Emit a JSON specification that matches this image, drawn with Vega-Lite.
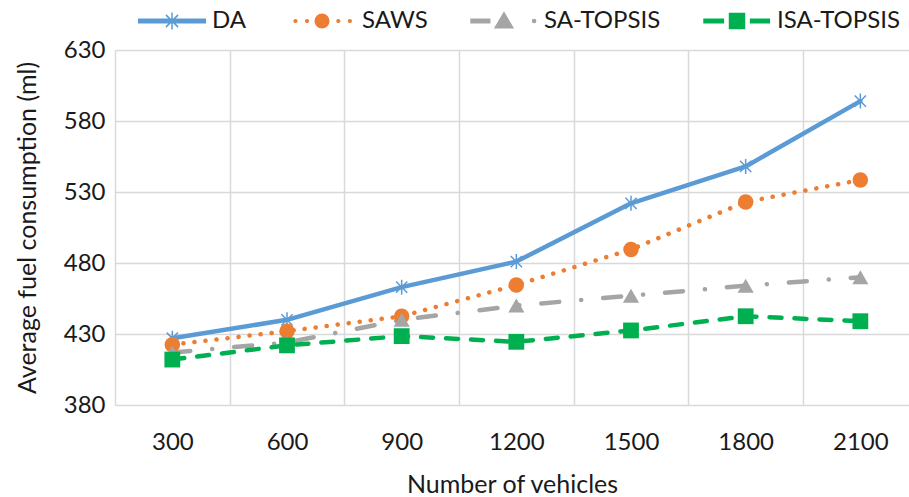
{
  "$schema": "https://vega.github.io/schema/vega-lite/v6.json",
  "width": 794,
  "height": 355,
  "autosize": {"type": "none"},
  "padding": {"left": 115, "top": 50, "right": 0, "bottom": 92},
  "background": "white",
  "config": {
    "view": {"stroke": null},
    "font": "Lato",
    "axis": {"labelFont": "Lato", "titleFont": "Lato", "labelColor": "#1a1a1a", "titleColor": "#1a1a1a", "titleFontWeight": "normal", "gridColor": "#d9d9d9", "gridWidth": 1.5},
    "legend": {
      "title": null, "orient": "none", "direction": "horizontal", "legendX": 22, "legendY": -64,
      "padding": 0, "columnPadding": 40, "labelOffset": 5,
      "labelFont": "Lato", "labelFontSize": 24, "labelColor": "#1a1a1a",
      "symbolSize": 4624, "symbolStrokeWidth": 1.5, "symbolOpacity": 1
    }
  },
  "data": {
    "values": [
      {"n": 300, "series": "DA", "v": 427},
      {"n": 600, "series": "DA", "v": 440},
      {"n": 900, "series": "DA", "v": 463},
      {"n": 1200, "series": "DA", "v": 481},
      {"n": 1500, "series": "DA", "v": 522},
      {"n": 1800, "series": "DA", "v": 548},
      {"n": 2100, "series": "DA", "v": 594},
      {"n": 300, "series": "SAWS", "v": 422.5},
      {"n": 600, "series": "SAWS", "v": 432},
      {"n": 900, "series": "SAWS", "v": 442.5},
      {"n": 1200, "series": "SAWS", "v": 464.5},
      {"n": 1500, "series": "SAWS", "v": 489.5},
      {"n": 1800, "series": "SAWS", "v": 523},
      {"n": 2100, "series": "SAWS", "v": 538.5},
      {"n": 300, "series": "SA-TOPSIS", "v": 417},
      {"n": 600, "series": "SA-TOPSIS", "v": 424},
      {"n": 900, "series": "SA-TOPSIS", "v": 440},
      {"n": 1200, "series": "SA-TOPSIS", "v": 450},
      {"n": 1500, "series": "SA-TOPSIS", "v": 457},
      {"n": 1800, "series": "SA-TOPSIS", "v": 464},
      {"n": 2100, "series": "SA-TOPSIS", "v": 470},
      {"n": 300, "series": "ISA-TOPSIS", "v": 412},
      {"n": 600, "series": "ISA-TOPSIS", "v": 422},
      {"n": 900, "series": "ISA-TOPSIS", "v": 428.5},
      {"n": 1200, "series": "ISA-TOPSIS", "v": 424.5},
      {"n": 1500, "series": "ISA-TOPSIS", "v": 432.5},
      {"n": 1800, "series": "ISA-TOPSIS", "v": 442.5},
      {"n": 2100, "series": "ISA-TOPSIS", "v": 439}
    ]
  },
  "encoding": {
    "x": {
      "field": "n", "type": "quantitative",
      "scale": {"domain": [150, 2227.3], "nice": false, "zero": false},
      "axis": {
        "title": "Number of vehicles",
        "values": [150, 300, 450, 600, 750, 900, 1050, 1200, 1350, 1500, 1650, 1800, 1950, 2100],
        "labelExpr": "datum.value % 300 == 0 ? format(datum.value, 'd') : ''",
        "gridOpacity": {"condition": {"test": "datum.value % 300 != 0", "value": 1}, "value": 0},
        "ticks": false, "domain": false,
        "labelFontSize": 24, "labelPadding": 25, "labelFlush": false, "labelOverlap": false,
        "titleFontSize": 25, "titlePadding": 18
      }
    },
    "y": {
      "field": "v", "type": "quantitative",
      "scale": {"domain": [380, 630], "nice": false, "zero": false},
      "axis": {
        "title": "Average fuel consumption (ml)",
        "values": [380, 430, 480, 530, 580, 630],
        "ticks": false, "domain": false,
        "labelFontSize": 24, "labelPadding": 10,
        "titleFontSize": 25, "titlePadding": 23
      }
    }
  },
  "layer": [
    {
      "transform": [{"filter": "datum.series === 'DA'"}],
      "mark": {"type": "line", "color": "#5b9bd5", "strokeWidth": 4.5, "strokeCap": "round", "strokeJoin": "round"},
      "encoding": {}
    },
    {
      "transform": [{"filter": "datum.series === 'SAWS'"}],
      "mark": {"type": "line", "color": "#ed7d31", "strokeWidth": 4.5, "strokeCap": "round", "strokeJoin": "round", "strokeDash": [0.1, 11]},
      "encoding": {}
    },
    {
      "transform": [{"filter": "datum.series === 'SA-TOPSIS'"}],
      "mark": {"type": "line", "color": "#a5a5a5", "strokeWidth": 4.5, "strokeCap": "round", "strokeJoin": "round", "strokeDash": [18, 22, 0.1, 22]},
      "encoding": {}
    },
    {
      "transform": [{"filter": "datum.series === 'ISA-TOPSIS'"}],
      "mark": {"type": "line", "color": "#00b050", "strokeWidth": 4.5, "strokeCap": "round", "strokeJoin": "round", "strokeDash": [12, 13]},
      "encoding": {}
    },
    {
      "transform": [{"filter": "datum.series === 'DA'"}],
      "mark": {"type": "point", "filled": false, "opacity": 1, "size": 225, "strokeWidth": 1.5, "color": "#5b9bd5", "shape": "M0,-1L0,1M-0.75,-0.75L0.75,0.75M-0.75,0.75L0.75,-0.75"}
    },
    {
      "transform": [{"filter": "datum.series === 'SAWS'"}],
      "mark": {"type": "point", "filled": true, "opacity": 1, "size": 240, "color": "#ed7d31", "shape": "circle"}
    },
    {
      "transform": [{"filter": "datum.series === 'SA-TOPSIS'"}],
      "mark": {"type": "point", "filled": true, "opacity": 1, "size": 260, "color": "#a5a5a5", "shape": "triangle-up"}
    },
    {
      "transform": [{"filter": "datum.series === 'ISA-TOPSIS'"}],
      "mark": {"type": "point", "filled": true, "opacity": 1, "size": 250, "color": "#00b050", "shape": "square"}
    },
    {
      "mark": {"type": "point", "filled": true, "opacity": 0, "strokeWidth": 1.5},
      "encoding": {
        "color": {
          "field": "series", "type": "nominal",
          "scale": {"domain": ["DA", "SAWS", "SA-TOPSIS", "ISA-TOPSIS"], "range": ["#5b9bd5", "#ed7d31", "#a5a5a5", "#00b050"]}
        },
        "stroke": {
          "field": "series", "type": "nominal",
          "scale": {"domain": ["DA", "SAWS", "SA-TOPSIS", "ISA-TOPSIS"], "range": ["#5b9bd5", "#ed7d31", "#a5a5a5", "#00b050"]}
        },
        "shape": {
          "field": "series", "type": "nominal",
          "scale": {
            "domain": ["DA", "SAWS", "SA-TOPSIS", "ISA-TOPSIS"],
            "range": [
              "M-0.98,-0.05L0.98,-0.05L0.98,0.05L-0.98,0.05ZM0,-0.25L0,0.25M-0.18,-0.18L0.18,0.18M-0.18,0.18L0.18,-0.18",
              "M-0.2,0A0.2,0.2,0,1,0,0.2,0A0.2,0.2,0,1,0,-0.2,0ZM-0.82,0A0.04,0.04,0,1,0,-0.74,0A0.04,0.04,0,1,0,-0.82,0ZM-0.48,0A0.04,0.04,0,1,0,-0.4,0A0.04,0.04,0,1,0,-0.48,0ZM0.44,0A0.04,0.04,0,1,0,0.52,0A0.04,0.04,0,1,0,0.44,0ZM0.78,0A0.04,0.04,0,1,0,0.86,0A0.04,0.04,0,1,0,0.78,0Z",
              "M-0.97,-0.05L-0.42,-0.05L-0.42,0.05L-0.97,0.05ZM0,-0.24L0.26,0.2L-0.26,0.2ZM0.84,0A0.045,0.045,0,1,0,0.93,0A0.045,0.045,0,1,0,0.84,0Z",
              "M-0.97,-0.05L-0.4,-0.05L-0.4,0.05L-0.97,0.05ZM0.4,-0.05L0.95,-0.05L0.95,0.05L0.4,0.05ZM-0.22,-0.22L0.22,-0.22L0.22,0.22L-0.22,0.22Z"
            ]
          }
        }
      }
    }
  ]
}
